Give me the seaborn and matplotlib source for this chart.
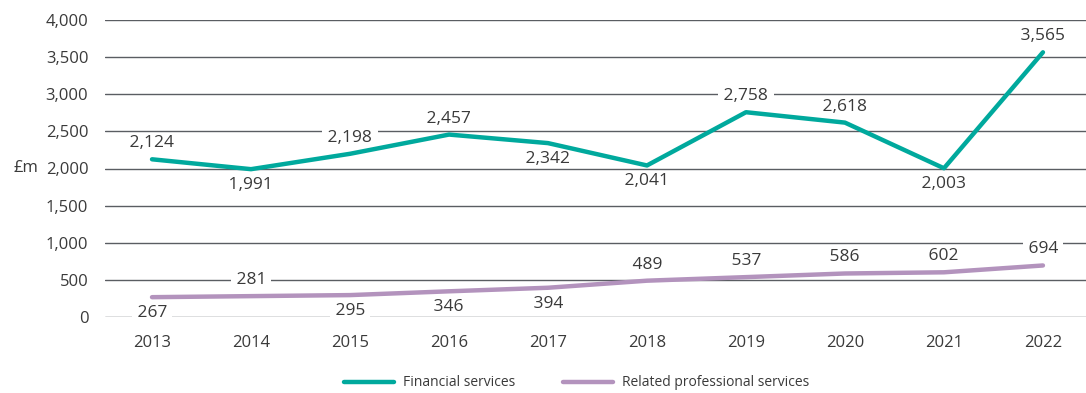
import matplotlib
matplotlib.use("Agg")
import matplotlib.pyplot as plt
import seaborn as sns
import pandas as pd
from matplotlib import font_manager

years = [2013, 2014, 2015, 2016, 2017, 2018, 2019, 2020, 2021, 2022]
financial = [2124, 1991, 2198, 2457, 2342, 2041, 2758, 2618, 2003, 3565]
professional = [267, 281, 295, 346, 394, 489, 537, 586, 602, 694]
# label placement: +1 above the point, -1 below it
financial_side = [1, -1, 1, 1, -1, -1, 1, 1, -1, 1]
professional_side = [-1, 1, -1, -1, -1, 1, 1, 1, 1, 1]
series_names = ["Financial services", "Related professional services"]
y_ticks = [0, 500, 1000, 1500, 2000, 2500, 3000, 3500, 4000]

sns.set_theme(style="white")
names = {f.name for f in font_manager.fontManager.ttflist}
family = "Liberation Sans Narrow" if "Liberation Sans Narrow" in names else "Open Sans"
plt.rcParams["font.family"] = [family, "DejaVu Sans"]

text_col = "#3a3a3a"
teal = "#00A99D"
purple = "#B393BD"

df = pd.DataFrame({
    "idx": list(range(len(years))) * 2,
    "value": financial + professional,
    "series": [series_names[0]] * len(years) + [series_names[1]] * len(years),
})

fig = plt.figure(figsize=(10.86, 3.93), dpi=100)
ax = fig.add_axes([105 / 1086, 1 - 317 / 393, (1086 - 105) / 1086, 297 / 393])

for y in y_ticks:
    ax.axhline(y, color="#5a5d62", lw=1.0, zorder=1)

sns.lineplot(data=df, x="idx", y="value", hue="series",
             palette=[teal, purple], lw=3.2, ax=ax, legend=False,
             zorder=3, solid_capstyle="round")

def label(vals, sides):
    for i, (v, s) in enumerate(zip(vals, sides)):
        ax.annotate(f" {v:,} ", (i, v), xytext=(0, 16 * s), textcoords="offset pixels",
                    ha="center", va="center", fontsize=12.5, color=text_col, zorder=2,
                    bbox=dict(boxstyle="square,pad=0.05", fc="white", ec="none"))

label(financial, financial_side)
label(professional, professional_side)

ax.set_xlim(-0.475, 9.435)
ax.set_ylim(0, 4000)
ax.set_yticks(y_ticks)
ax.set_yticklabels([f"{t:,}" for t in y_ticks])
ax.set_xticks(range(len(years)))
ax.set_xticklabels([str(y) for y in years])
ax.tick_params(axis="both", length=0, labelsize=12, labelcolor=text_col)
ax.tick_params(axis="y", pad=12)
ax.tick_params(axis="x", pad=13)
for sp in ax.spines.values():
    sp.set_visible(False)
ax.set_xlabel("")
ax.set_ylabel("")
fig.text(14 / 1086, 1 - 168 / 393, "£m", fontsize=12, color=text_col, va="center", ha="left")

handles = [plt.Line2D([0], [0], color=teal, lw=3.2, solid_capstyle="round"),
           plt.Line2D([0], [0], color=purple, lw=3.2, solid_capstyle="round")]
fig.legend(handles, series_names, loc="center", bbox_to_anchor=(0.531, 1 - 383 / 393),
           ncol=2, frameon=False, fontsize=10, handlelength=3.6, columnspacing=3.4,
           labelcolor=text_col, handletextpad=0.65)

fig.savefig("out.png", dpi=100)
